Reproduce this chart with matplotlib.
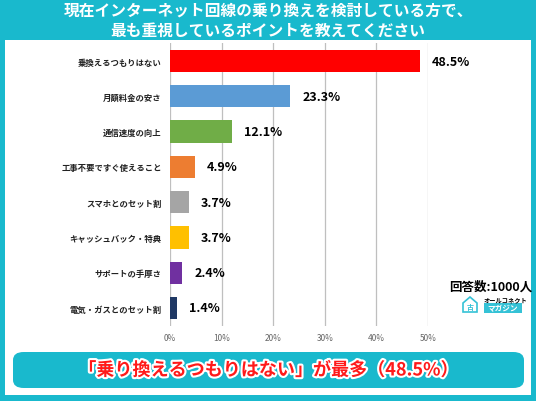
import matplotlib.pyplot as plt
import matplotlib.patheffects as pe
from matplotlib.patches import FancyBboxPatch, Rectangle, Polygon

plt.rcParams['font.family'] = ['Noto Sans CJK JP', 'DejaVu Sans']

# data, top to bottom
categories = ['乗換えるつもりはない', '月額料金の安さ', '通信速度の向上', '工事不要ですぐ使えること',
              'スマホとのセット割', 'キャッシュバック・特典', 'サポートの手厚さ', '電気・ガスとのセット割']
values = [48.5, 23.3, 12.1, 4.9, 3.7, 3.7, 2.4, 1.4]
colors = ['#FF0000', '#5B9BD5', '#70AD47', '#ED7D31', '#A5A5A5', '#FFC000', '#7030A0', '#1F3864']
ticks = [0, 10, 20, 30, 40, 50]
title_lines = ['現在インターネット回線の乗り換えを検討している方で、', '最も重視しているポイントを教えてください']
summary = '「乗り換えるつもりはない」が最多（48.5%）'
respondents = '回答数:1000人'

teal = '#19B9CD'
W, H = 536, 402
fig = plt.figure(figsize=(W / 100, H / 100), dpi=100)
fig.patch.set_facecolor(teal)

def fx(px):
    return px / W

def fy(py):
    return 1 - py / H

# white panel
fig.patches.append(Rectangle((fx(5), fy(396)), fx(526), (396 - 41) / H,
                             transform=fig.transFigure, facecolor='white', edgecolor='none', zorder=-5))

# title
fig.text(0.5, fy(11), title_lines[0], ha='center', va='center', color='white',
         fontsize=11.3, fontweight='bold')
fig.text(0.5, fy(31), title_lines[1], ha='center', va='center', color='white',
         fontsize=11.3, fontweight='bold')

# bar chart
ax = fig.add_axes([fx(170), fy(326.6), fx(428 - 170), (326.6 - 44.4) / H])
ax.set_zorder(2)
ax.set_facecolor('none')
pos = list(range(len(values)))
ax.barh(pos, values, height=0.63, color=colors, zorder=3)
for p, v in zip(pos, values):
    ax.text(v + 2.3, p, f'{v}%', va='center', ha='left', fontsize=9, fontweight='bold', zorder=4)
ax.set_xlim(0, 50)
ax.set_ylim(len(values) - 0.5, -0.5)
ax.set_xticks(ticks)
ax.set_xticklabels([f'{t}%' for t in ticks], fontsize=6, color='#666666')
ax.set_yticks(pos)
ax.set_yticklabels(categories, fontsize=6, color='#222222', fontweight='bold')
ax.tick_params(length=0, pad=6)
ax.tick_params(axis='x', pad=5)
ax.grid(axis='x', color='#BFBFBF', lw=0.9, zorder=0)
for s in ax.spines.values():
    s.set_visible(False)

# respondents and logo
fig.text(fx(532), fy(287), respondents, ha='right', va='center', fontsize=9, fontweight='bold')
fig.patches.append(Polygon([(fx(463), fy(313)), (fx(463), fy(304)), (fx(470), fy(298)),
                            (fx(477), fy(304)), (fx(477), fy(313))], closed=True,
                           transform=fig.transFigure, facecolor='none', edgecolor='#35C2D6', lw=1.2))
fig.text(fx(470), fy(308), '古', ha='center', va='center', fontsize=5, color='#35C2D6', fontweight='bold')
fig.text(fx(484), fy(299.5), 'オールコネクト', ha='left', va='center', fontsize=4.5, fontweight='bold')
fig.patches.append(Rectangle((fx(484), fy(314)), fx(38), 10 / H, transform=fig.transFigure,
                             facecolor='#35C2D6', edgecolor='none'))
fig.text(fx(503), fy(309), 'マガジン', ha='center', va='center', fontsize=5.5, color='white',
         fontweight='bold')

# summary box
fig.patches.append(FancyBboxPatch((fx(13), fy(389)), fx(511), (389 - 353) / H,
                                  boxstyle='round,pad=0,rounding_size=0.02',
                                  transform=fig.transFigure, facecolor=teal, edgecolor='none', zorder=1))
fig.text(0.5, fy(371), summary, ha='center', va='center', color='#FF1A1A', fontsize=13,
         fontweight='bold', zorder=5, path_effects=[pe.withStroke(linewidth=3, foreground='white')])

fig.savefig('out.png', dpi=100, facecolor=fig.get_facecolor())
